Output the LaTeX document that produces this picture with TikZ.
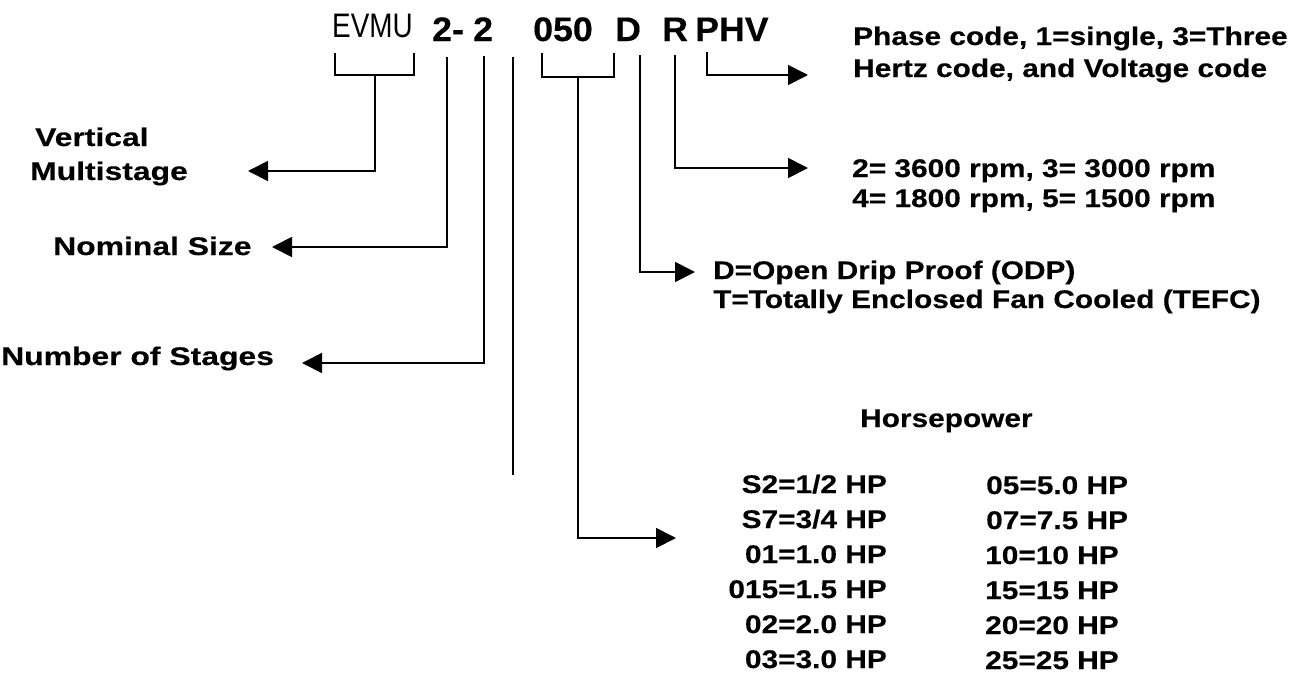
\documentclass[tikz,border=0pt]{standalone}
\usepackage{fontspec}
\setmainfont{Liberation Sans}
\newfontfamily\lblfont{Liberation Sans}[FakeStretch=1.17, BoldFeatures={FakeBold=0.3}]
\newfontfamily\lblwfont{Liberation Sans}[FakeStretch=1.25, BoldFeatures={FakeBold=0.3}]
\newfontfamily\codefont{Liberation Sans}[FakeStretch=1.05, BoldFeatures={FakeBold=0.3}]
\newfontfamily\evmufont{Liberation Sans}[FakeStretch=0.82]
\usetikzlibrary{arrows.meta}
\begin{document}
\begin{tikzpicture}[x=1pt,y=-1pt,
  txt/.style={inner sep=0pt, anchor=base west, font=\lblfont\bfseries\fontsize{25.5}{30}\selectfont},
  txtw/.style={inner sep=0pt, anchor=base west, font=\lblwfont\bfseries\fontsize{25.5}{30}\selectfont},
  hpL/.style={inner sep=0pt, anchor=base east, font=\lblfont\bfseries\fontsize{25.5}{30}\selectfont},
  hpR/.style={inner sep=0pt, anchor=base west, font=\lblfont\bfseries\fontsize{25.5}{30}\selectfont},
  codeB/.style={inner sep=0pt, anchor=base west, font=\codefont\bfseries\fontsize{34}{40}\selectfont},
  codeR/.style={inner sep=0pt, anchor=base west, font=\evmufont\fontsize{34}{40}\selectfont},
  conn/.style={line width=1.8pt, line join=miter},
  arr/.style={conn, -{Triangle[length=20pt,width=20pt]}}
]
\path[use as bounding box] (0,0) rectangle (1304,675);

% code letters
\node[codeR] (evmu) at (332,37) {EVMU};
\node[codeB] (c2a) at (432,41) {2-};
\node[codeB] (c2b) at (473,41) {2};
\node[codeB] (c050) at (533,41) {050};
\node[codeB] (cD) at (615,41) {D};
\node[codeB] (cR) at (662,41) {R};
\node[codeB] (cPHV) at (695,41) {PHV};

% labels left
\node[txtw] (vert) at (35,146) {Vertical};
\node[txtw] (multi) at (30,180) {Multistage};
\node[txtw] (nom) at (53,255) {Nominal Size};
\node[txtw] (nstg) at (1,365) {Number of Stages};

% labels right
\node[txt] (ph1) at (853,45) {Phase code, 1=single, 3=Three};
\node[txt] (ph2) at (853,77) {Hertz code, and Voltage code};
\node[txt] (rpm1) at (852,177) {2= 3600 rpm, 3= 3000 rpm};
\node[txt] (rpm2) at (852,207) {4= 1800 rpm, 5= 1500 rpm};
\node[txt] (odp) at (713,279) {D=Open Drip Proof (ODP)};
\node[txt] (tefc) at (713,308) {T=Totally Enclosed Fan Cooled (TEFC)};
\node[txt] (hp) at (860,427) {Horsepower};

% horsepower table
\node[hpL] (l1) at (887,493) {S2=1/2 HP};
\node[hpL] (l2) at (887,528) {S7=3/4 HP};
\node[hpL] (l3) at (887,563) {01=1.0 HP};
\node[hpL] (l4) at (887,598) {015=1.5 HP};
\node[hpL] (l5) at (887,633) {02=2.0 HP};
\node[hpL] (l6) at (887,668) {03=3.0 HP};
\node[hpR] (r1) at (986,494) {05=5.0 HP};
\node[hpR] (r2) at (986,529) {07=7.5 HP};
\node[hpR] (r3) at (985,564) {10=10 HP};
\node[hpR] (r4) at (985,599) {15=15 HP};
\node[hpR] (r5) at (985,634) {20=20 HP};
\node[hpR] (r6) at (985,669) {25=25 HP};

% connector coordinates
\coordinate (evL) at (335,53); \coordinate (evR) at (414,53);
\coordinate (evStem) at (375,75); \coordinate (tipVM) at (248,171);
\coordinate (nomTop) at (447,57); \coordinate (tipNom) at (272,247);
\coordinate (stgTop) at (484,56); \coordinate (tipStg) at (302,363);
\coordinate (freeTop) at (513,57); \coordinate (freeEnd) at (513,475);
\coordinate (hL) at (542,53); \coordinate (hR) at (614,53);
\coordinate (hStem) at (578,77); \coordinate (tipHP) at (676,538);
\coordinate (dTop) at (640,55); \coordinate (tipD) at (695,272);
\coordinate (rTop) at (675,55); \coordinate (tipR) at (808,168);
\coordinate (pTop) at (707,52); \coordinate (tipP) at (808,75);

% brackets
\draw[conn] (evL) -- (335,75) -- (414,75) -- (evR);
\draw[conn] (hL) -- (542,77) -- (614,77) -- (hR);

% connectors
\draw[arr] (evStem) |- (tipVM);
\draw[arr] (nomTop) |- (tipNom);
\draw[arr] (stgTop) |- (tipStg);
\draw[conn] (freeTop) -- (freeEnd);
\draw[arr] (hStem) |- (tipHP);
\draw[arr] (dTop) |- (tipD);
\draw[arr] (rTop) |- (tipR);
\draw[arr] (pTop) |- (tipP);
\end{tikzpicture}
\end{document}
